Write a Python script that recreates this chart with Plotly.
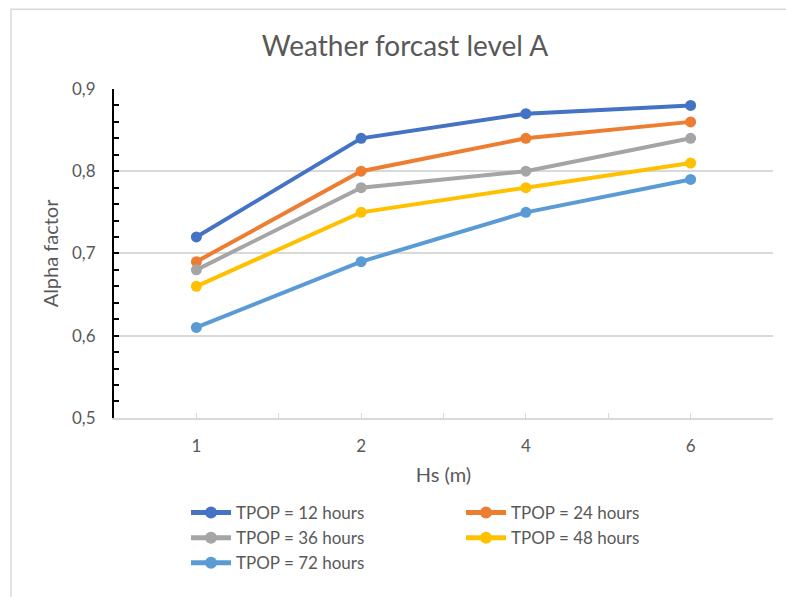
import plotly.graph_objects as go

categories = ["1", "2", "4", "6"]
series_names = ["TPOP = 12 hours", "TPOP = 24 hours", "TPOP = 36 hours",
                "TPOP = 48 hours", "TPOP = 72 hours"]
tpop_12 = [0.72, 0.84, 0.87, 0.88]
tpop_24 = [0.69, 0.80, 0.84, 0.86]
tpop_36 = [0.68, 0.78, 0.80, 0.84]
tpop_48 = [0.66, 0.75, 0.78, 0.81]
tpop_72 = [0.61, 0.69, 0.75, 0.79]
colors = ["#4472C4", "#ED7D31", "#A5A5A5", "#FFC000", "#5B9BD5"]

series = [tpop_12, tpop_24, tpop_36, tpop_48, tpop_72]
xpos = list(range(len(categories)))

fig = go.Figure()
for name, vals, col in zip(series_names, series, colors):
    fig.add_trace(go.Scatter(
        x=xpos, y=vals, name=name, mode="lines+markers",
        line=dict(color=col, width=4),
        marker=dict(color=col, size=11, symbol="circle"),
    ))

W, H = 786, 597
L, R, T, B = 114, 13, 89, 178
pw, ph = W - L - R, H - T - B

def px_x(x):
    return (x - L) / pw

def px_y(y):
    return 1 - (y - T) / ph

font_fam = "Lato, 'Open Sans', sans-serif"
fig.update_layout(
    width=W, height=H,
    margin=dict(l=L, r=R, t=T, b=B),
    paper_bgcolor="white", plot_bgcolor="white",
    separators=", ",
    font=dict(family=font_fam, color="#595959", size=16),
    title=dict(text="Weather forcast level A", x=(405) / W, xanchor="center",
               y=1 - 46 / H, yanchor="middle", xref="container", yref="container",
               font=dict(size=28, color="#595959", family=font_fam)),
    showlegend=True,
    legend=dict(orientation="h", xref="container", yref="container",
                x=(186) / W, y=1 - 495 / H, xanchor="left", yanchor="top",
                entrywidth=220, entrywidthmode="pixels",
                font=dict(size=17, color="#595959"),
                itemsizing="constant", tracegroupgap=0, itemwidth=40,
                bgcolor="rgba(0,0,0,0)"),
    xaxis=dict(
        range=[-0.5, 3.5], tickmode="array", tickvals=xpos, ticktext=categories,
        showgrid=False, zeroline=False,
        showline=True, linecolor="#D9D9D9", linewidth=1.5,
        ticks="inside", ticklen=5, tickcolor="#D9D9D9", tickwidth=1,
        minor=dict(tickmode="array", tickvals=[-0.5, 0.5, 1.5, 2.5, 3.5],
                   ticks="inside", ticklen=5, tickcolor="#D9D9D9", tickwidth=1),
        tickfont=dict(size=17, color="#595959"), ticklabelstandoff=12,
        title=dict(text="Hs (m)", font=dict(size=20, color="#595959"), standoff=13),
    ),
    yaxis=dict(
        range=[0.5, 0.9], dtick=0.1, tick0=0.5, tickformat=".1f",
        showgrid=True, gridcolor="#D9D9D9", gridwidth=1.5,
        zeroline=False, showline=True, linecolor="black", linewidth=2,
        ticks="inside", ticklen=5, tickcolor="black", tickwidth=1.5,
        minor=dict(dtick=0.02, ticks="inside", ticklen=5, tickcolor="black",
                   tickwidth=1.5, showgrid=False),
        tickfont=dict(size=17, color="#595959"), ticklabelstandoff=13,
        title=dict(text="Alpha factor", font=dict(size=20, color="#595959"), standoff=8),
    ),
    shapes=[dict(type="rect", xref="paper", yref="paper",
                 x0=px_x(11), x1=px_x(800), y0=px_y(620), y1=px_y(9),
                 line=dict(color="#D9D9D9", width=1.5), fillcolor="rgba(0,0,0,0)",
                 layer="below")],
)

fig.write_html("out.html")
